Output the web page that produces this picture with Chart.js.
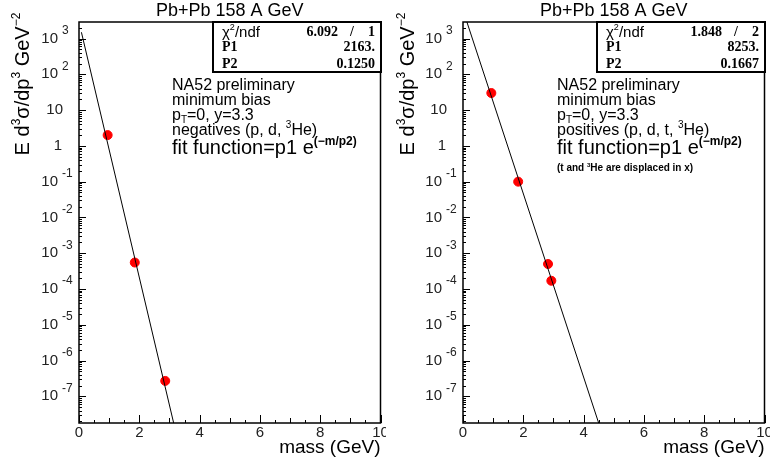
<!DOCTYPE html>
<html>
<head>
<meta charset="utf-8">
<script src="https://cdn.jsdelivr.net/npm/chart.js@4/dist/chart.umd.min.js"></script>
<style>
  body { margin: 0; background: #fff; }
  #wrap { position: relative; width: 770px; height: 466px; }
  canvas { position: absolute; top: 0; }
</style>
</head>
<body>
<div id="wrap">
  <canvas id="neg" width="386" height="466" style="left:0"></canvas>
  <canvas id="pos" width="386" height="466" style="left:384px"></canvas>
</div>
<script>
// data
const massNeg = [0.95, 1.85, 2.86];
const yieldNeg = [2.0, 5.5e-4, 2.7e-7];
const fitNegX = [0.08, 3.14];
const fitNegY = [1500, 1.8e-8];

const massPos = [0.94, 1.83, 2.82, 2.93];
const yieldPos = [30, 0.1, 5e-4, 1.7e-4];
const fitPosX = [0.13, 4.5];
const fitPosY = [2900, 1.8e-8];

const xTicks = [0, 2, 4, 6, 8, 10];
const yDecades = [-7, -6, -5, -4, -3, -2, -1, 0, 1, 2, 3];
const yMin = 1.8e-8, yMax = 2.9e3;

const statsNeg = [["6.092", "1"], ["P1", "2163."], ["P2", "0.1250"]];
const statsPos = [["1.848", "2"], ["P1", "8253."], ["P2", "0.1667"]];

const SANS = '"Liberation Sans", Arial, sans-serif';
const SERIF = '"Liberation Serif", "Times New Roman", serif';

// draw text made of runs, some raised (sup) or lowered (sub)
function drawRuns(ctx, runs, x, y, size, weight) {
    ctx.textAlign = "left";
    ctx.textBaseline = "alphabetic";
    let cx = x;
    runs.forEach(r => {
        const s = r.sup || r.sub ? Math.round(size * 0.62) : size;
        ctx.font = `${r.bold ? "bold " : weight || ""} ${s}px ${SANS}`;
        const dy = r.sup ? -size * 0.45 : (r.sub ? size * 0.2 : 0);
        ctx.fillText(r.t, cx, y + dy);
        cx += ctx.measureText(r.t).width;
    });
    return cx - x;
}

function measureRuns(ctx, runs, size, weight) {
    let w = 0;
    runs.forEach(r => {
        const s = r.sup || r.sub ? Math.round(size * 0.62) : size;
        ctx.font = `${r.bold ? "bold " : weight || ""} ${s}px ${SANS}`;
        w += ctx.measureText(r.t).width;
    });
    return w;
}

function makeDecor(cfg) {
    return {
        id: "rootDecor",
        afterDraw(chart) {
            const ctx = chart.ctx;
            const a = chart.chartArea;
            const xs = chart.scales.x, ys = chart.scales.y;
            ctx.save();

            // frame
            ctx.strokeStyle = "#000";
            ctx.lineWidth = 1.5;
            ctx.strokeRect(a.left, a.top, a.right - a.left, a.bottom - a.top);

            // x ticks (inward)
            ctx.lineWidth = 1;
            for (let v = 0; v <= 10; v += 0.5) {
                const px = Math.round(xs.getPixelForValue(v)) + 0.5;
                const len = v % 2 === 0 ? 8 : (v % 1 === 0 ? 5 : 3);
                ctx.beginPath();
                ctx.moveTo(px, a.bottom);
                ctx.lineTo(px, a.bottom - len);
                ctx.stroke();
            }
            ctx.fillStyle = "#222";
            ctx.font = `15px ${SANS}`;
            ctx.textAlign = "center";
            ctx.textBaseline = "middle";
            xTicks.forEach(v => ctx.fillText(String(v), xs.getPixelForValue(v), 433));

            // y ticks (inward), major at decades, minor 2..9
            for (let d = -8; d <= 3; d++) {
                for (let m = 1; m <= 9; m++) {
                    const val = m * Math.pow(10, d);
                    if (val < yMin || val > yMax) continue;
                    const py = Math.round(ys.getPixelForValue(val)) + 0.5;
                    const len = m === 1 ? 7 : 3;
                    ctx.beginPath();
                    ctx.moveTo(a.left, py);
                    ctx.lineTo(a.left + len, py);
                    ctx.stroke();
                }
            }
            yDecades.forEach(d => {
                const py = ys.getPixelForValue(Math.pow(10, d));
                ctx.textBaseline = "middle";
                ctx.textAlign = "right";
                ctx.font = `15px ${SANS}`;
                if (d === 0) {
                    ctx.fillText("1", a.left - 17, py);
                } else if (d === 1) {
                    ctx.fillText("10", a.left - 16, py);
                } else {
                    ctx.fillText("10", a.left - 21, py);
                    ctx.textAlign = "left";
                    ctx.font = `12px ${SANS}`;
                    ctx.fillText(String(d), a.left - 17, py - 8);
                }
            });

            // title
            ctx.fillStyle = "#000";
            ctx.font = `18px ${SANS}`;
            ctx.textAlign = "center";
            ctx.textBaseline = "middle";
            ctx.fillText("Pb+Pb 158 A GeV", (a.left + a.right) / 2, 11);

            // x title
            ctx.font = `19px ${SANS}`;
            ctx.textAlign = "right";
            ctx.fillText("mass (GeV)", a.right, 448);

            // y title, rotated
            ctx.save();
            ctx.translate(cfg.yTitleX, 84);
            ctx.rotate(-Math.PI / 2);
            const yRuns = [{t: "E d"}, {t: "3", sup: true}, {t: "\u03c3/dp"}, {t: "3", sup: true},
                {t: " GeV"}, {t: "\u22122", sup: true}];
            const w = measureRuns(ctx, yRuns, 20);
            drawRuns(ctx, yRuns, -w / 2, 7, 20);
            ctx.restore();

            // stats box
            const b = cfg.box;
            ctx.fillStyle = "#fff";
            ctx.fillRect(b.x, a.top, b.w, 50);
            ctx.lineWidth = 2;
            ctx.strokeRect(b.x, a.top, b.w, 50);
            ctx.fillStyle = "#000";
            const st = cfg.stats;
            drawRuns(ctx, [{t: "\u03c7"}, {t: "2", sup: true}, {t: "/ndf"}], b.x + 9, a.top + 15, 15);
            ctx.font = `bold 14px ${SERIF}`;
            ctx.textAlign = "right";
            ctx.textBaseline = "middle";
            ctx.fillText(st[0][0], b.x + 125, a.top + 10);
            ctx.fillText("/", b.x + 141, a.top + 10);
            ctx.fillText(st[0][1], b.x + 162, a.top + 10);
            [1, 2].forEach(i => {
                const ry = a.top + 8 + i * 17;
                ctx.textAlign = "left";
                ctx.fillText(st[i][0], b.x + 9, ry);
                ctx.textAlign = "right";
                ctx.fillText(st[i][1], b.x + 162, ry);
            });

            // annotations
            const tx = cfg.textX;
            const fs = 16;
            drawRuns(ctx, [{t: "NA52 preliminary"}], tx, 90, fs);
            drawRuns(ctx, [{t: "minimum bias"}], tx, 105, fs);
            drawRuns(ctx, [{t: "p"}, {t: "T", sub: true}, {t: "=0, y=3.3"}], tx, 120, fs);
            drawRuns(ctx, cfg.species, tx, 135, fs);
            drawRuns(ctx, [{t: "fit function=p1 e"}, {t: "(\u2212m/p2)", sup: true, bold: true}], tx, 154, 20);
            if (cfg.note) {
                drawRuns(ctx, [{t: "(t and ", bold: true}, {t: "3", sup: true, bold: true},
                    {t: "He are displaced in x)", bold: true}], tx, 171, 10);
            }
            ctx.restore();
        }
    };
}

function makeChart(id, mass, yields, fitX, fitY, cfg) {
    return new Chart(document.getElementById(id), {
        type: "scatter",
        data: {
            datasets: [
                {
                    label: "fit",
                    type: "line",
                    data: fitX.map((x, i) => ({x: x, y: fitY[i]})),
                    borderColor: "#000",
                    borderWidth: 1,
                    pointRadius: 0,
                    fill: false
                },
                {
                    label: "data",
                    data: mass.map((m, i) => ({x: m, y: yields[i]})),
                    backgroundColor: "#f00",
                    borderColor: "#f00",
                    pointRadius: 4.5,
                    pointHoverRadius: 4.5
                }
            ]
        },
        options: {
            responsive: false,
            animation: false,
            devicePixelRatio: 1,
            layout: {padding: {left: 79, right: 1, top: 22, bottom: 43}},
            plugins: {legend: {display: false}, tooltip: {enabled: false}},
            scales: {
                x: {type: "linear", min: 0, max: 10, display: false},
                y: {type: "logarithmic", min: yMin, max: yMax, display: false}
            }
        },
        plugins: [makeDecor(cfg)]
    });
}

makeChart("neg", massNeg, yieldNeg, fitNegX, fitNegY, {
    yTitleX: 22,
    box: {x: 213, w: 168},
    stats: statsNeg,
    textX: 172,
    species: [{t: "negatives (p, d, "}, {t: "3", sup: true}, {t: "He)"}],
    note: false
});
makeChart("pos", massPos, yieldPos, fitPosX, fitPosY, {
    yTitleX: 23,
    box: {x: 213, w: 168},
    stats: statsPos,
    textX: 173,
    species: [{t: "positives (p, d, t, "}, {t: "3", sup: true}, {t: "He)"}],
    note: true
});
</script>
</body>
</html>
